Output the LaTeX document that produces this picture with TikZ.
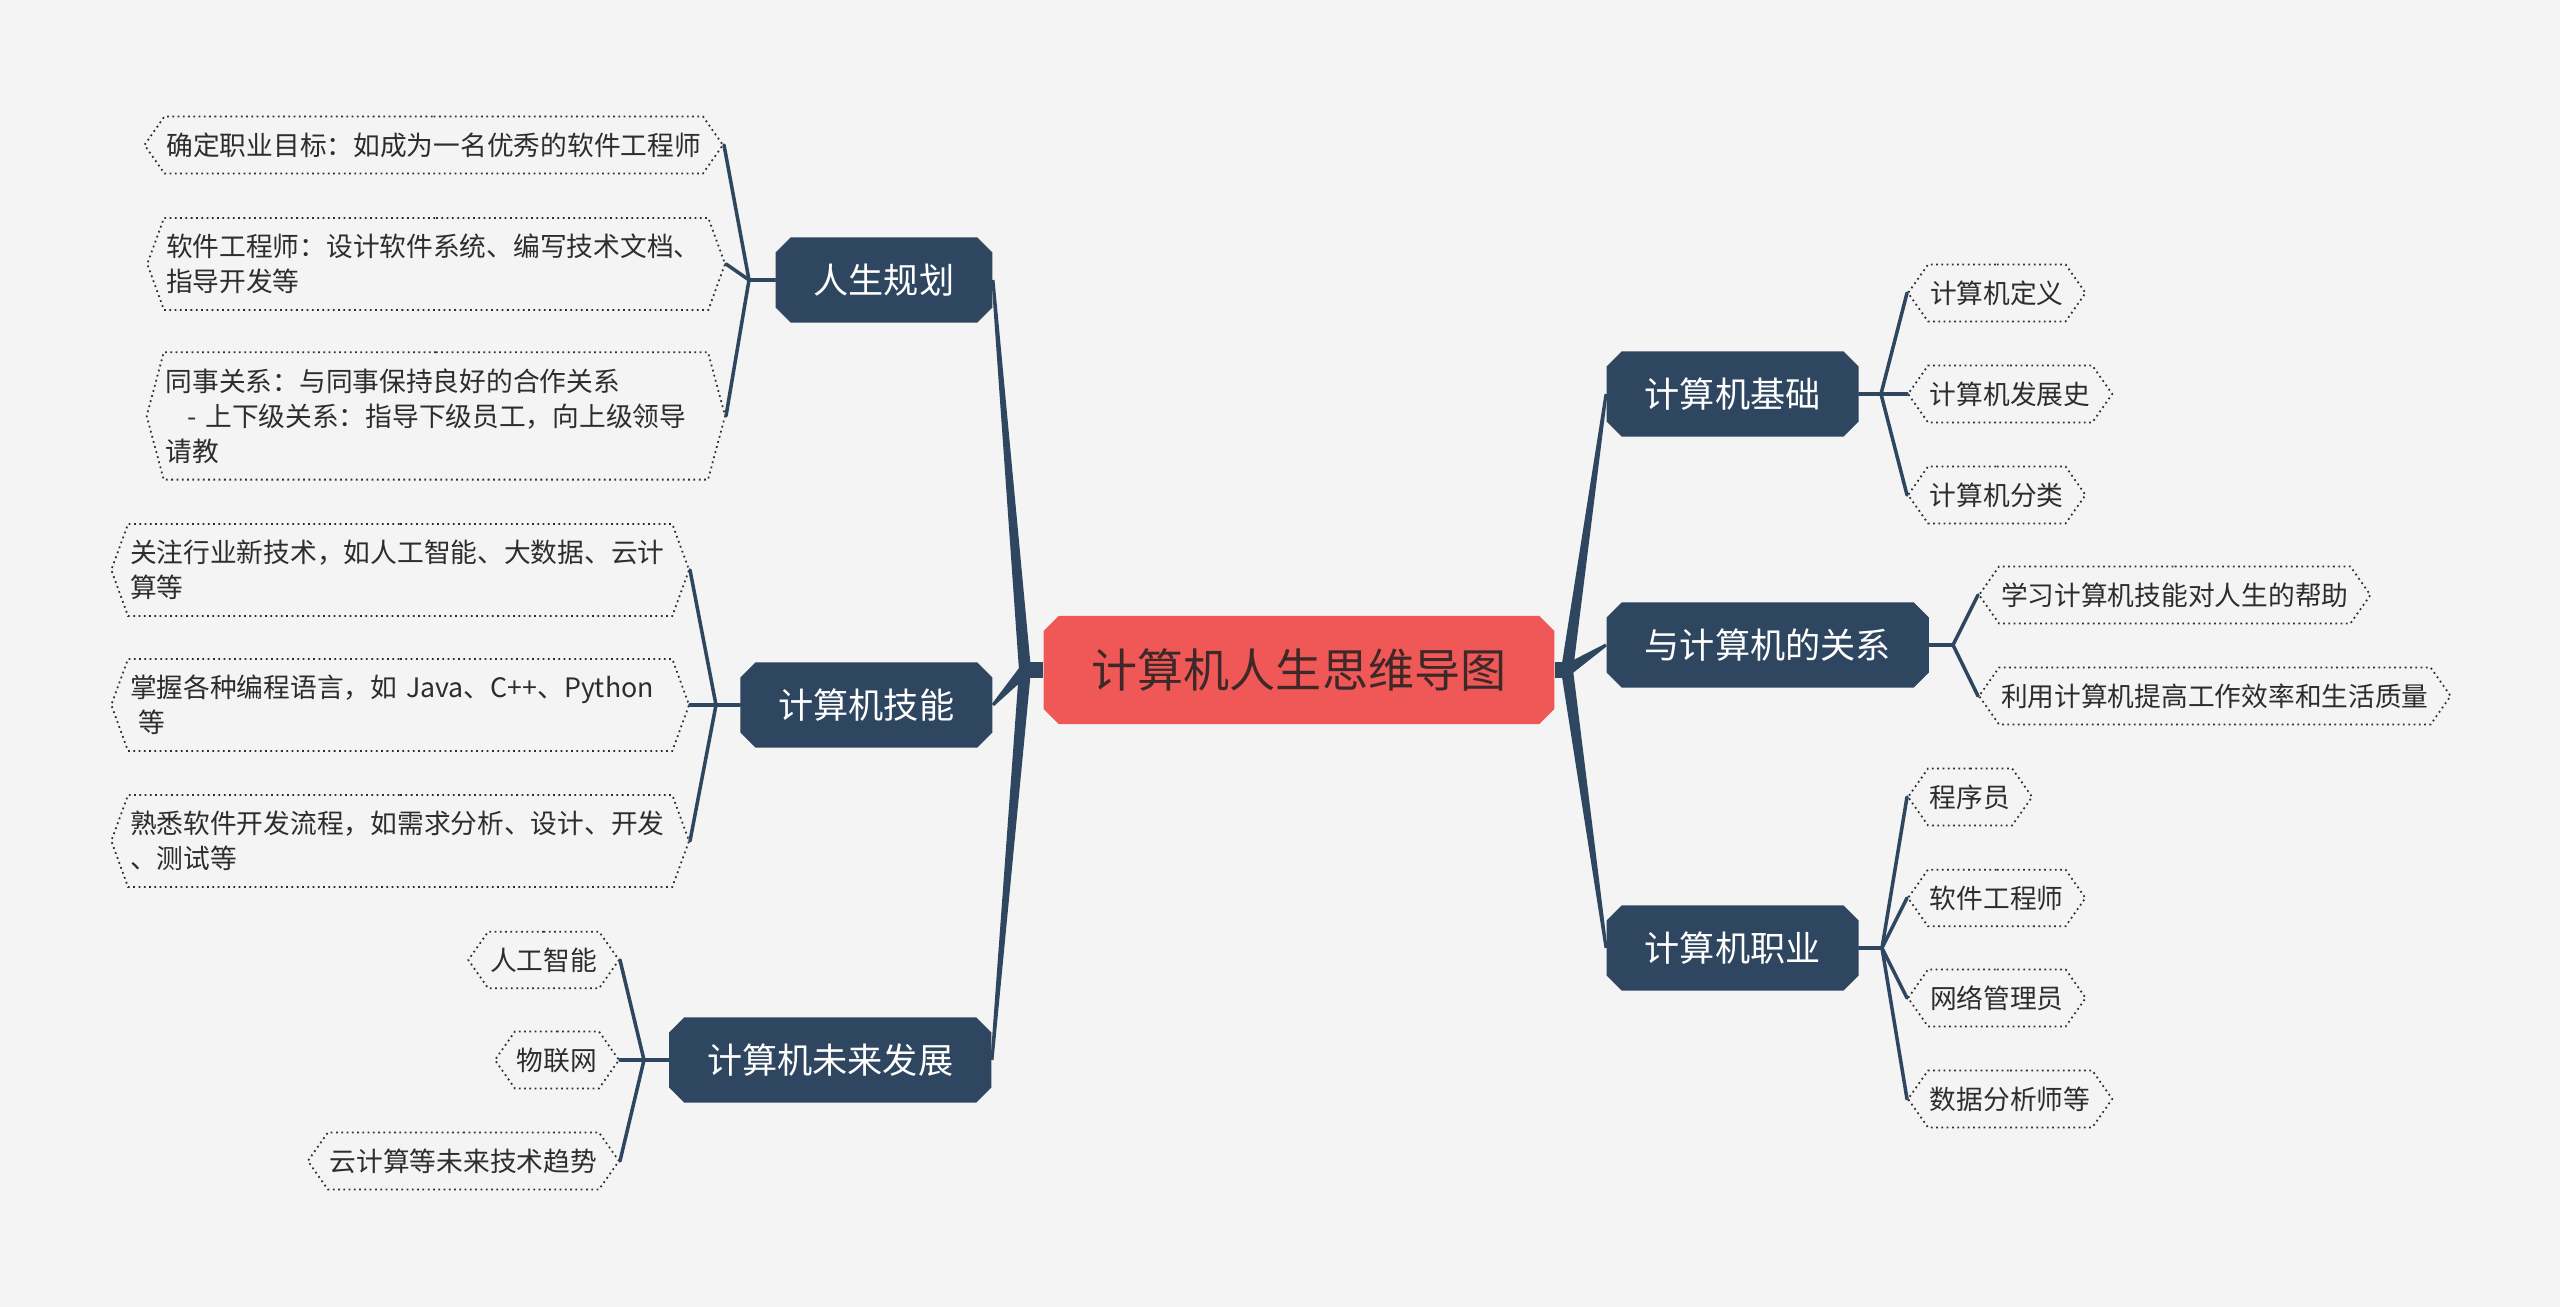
\documentclass[tikz,border=0pt]{standalone}
\usepackage{fontspec}
\setmainfont{Noto Sans CJK SC}
\usetikzlibrary{positioning, calc, shapes.symbols}
\definecolor{bgGrey}{RGB}{244,244,244}
\definecolor{rootRed}{RGB}{240,88,88}
\definecolor{rootInk}{RGB}{62,40,40}
\definecolor{slate}{RGB}{47,70,96}
\definecolor{leafInk}{RGB}{45,45,45}

\begin{document}
\begin{tikzpicture}[
    x=0.01cm, y=-0.01cm,
    font=\fontsize{7.6pt}{10pt}\selectfont,
    cut/.style={path picture={\fill[#1]
        ([xshift=1.5mm]path picture bounding box.north west) -- ([xshift=-1.5mm]path picture bounding box.north east)
        -- ([yshift=-1.5mm]path picture bounding box.north east) -- ([yshift=1.5mm]path picture bounding box.south east)
        -- ([xshift=-1.5mm]path picture bounding box.south east) -- ([xshift=1.5mm]path picture bounding box.south west)
        -- ([yshift=1.5mm]path picture bounding box.south west) -- ([yshift=-1.5mm]path picture bounding box.north west)
        -- cycle;}},
    root/.style={rectangle, cut=rootRed, text=rootInk,
        font=\fontsize{13.1pt}{15pt}\selectfont, inner xsep=0.48cm, minimum height=1.08cm},
    topic/.style={rectangle, cut=slate, text=white,
        font=\fontsize{10pt}{12pt}\selectfont, inner xsep=0.38cm, minimum height=0.85cm},
    leaf/.style={signal, signal to=east and west, signal pointer angle=#1, draw=leafInk,
        densely dotted, line width=0.5pt, text=leafInk, inner xsep=0.02cm, inner ysep=0.16cm,
        align=left},
    leaf/.default=110,
    wide/.style={text width=5.4cm},
    link/.style={slate, line width=1pt, line cap=round}
]
\fill[bgGrey] (0,0) rectangle (2560,1307);

% centre and main topics
\node[root] (root) at (1299,670) {计算机人生思维导图};
\node[topic, anchor=east] (plan) at (993,280) {人生规划};
\node[topic, anchor=east] (skill) at (993,705) {计算机技能};
\node[topic, anchor=east] (future) at (992,1060) {计算机未来发展};
\node[topic, anchor=west] (basic) at (1606,394) {计算机基础};
\node[topic, anchor=west] (rel) at (1606,645) {与计算机的关系};
\node[topic, anchor=west] (career) at (1606,948) {计算机职业};

% left leaves
\node[leaf, anchor=east] (plan1) at (724,145) {确定职业目标：如成为一名优秀的软件工程师};
\node[leaf=140, wide, anchor=east] (plan2) at (726,264) {软件工程师：设计软件系统、编写技术文档、\\指导开发等};
\node[leaf=150, wide, anchor=east] (plan3) at (726,416) {同事关系：与同事保持良好的合作关系\\\hspace*{0.8em}- 上下级关系：指导下级员工，向上级领导\\请教};
\node[leaf=140, wide, anchor=east] (skill1) at (690,570) {关注行业新技术，如人工智能、大数据、云计\\算等};
\node[leaf=140, wide, anchor=east] (skill2) at (690,705) {掌握各种编程语言，如 Java、C++、Python\\\hspace*{0.3em}等};
\node[leaf=140, wide, anchor=east] (skill3) at (690,841) {熟悉软件开发流程，如需求分析、设计、开发\\、测试等};
\node[leaf, anchor=east] (fut1) at (620,960) {人工智能};
\node[leaf, anchor=east] (fut2) at (620,1060) {物联网};
\node[leaf, anchor=east] (fut3) at (620,1161) {云计算等未来技术趋势};

% right leaves
\node[leaf, anchor=west] (basic1) at (1907,293) {计算机定义};
\node[leaf, anchor=west] (basic2) at (1907,394) {计算机发展史};
\node[leaf, anchor=west] (basic3) at (1907,495) {计算机分类};
\node[leaf, anchor=west] (rel1) at (1978,595) {学习计算机技能对人生的帮助};
\node[leaf, anchor=west] (rel2) at (1978,696) {利用计算机提高工作效率和生活质量};
\node[leaf, anchor=west] (car1) at (1907,797) {程序员};
\node[leaf, anchor=west] (car2) at (1907,898) {软件工程师};
\node[leaf, anchor=west] (car3) at (1907,998) {网络管理员};
\node[leaf, anchor=west] (car4) at (1907,1099) {数据分析师等};

% fork points
\coordinate (lfork) at (1025,670);
\coordinate (rfork) at (1567,670);
\coordinate (planf) at (749,280);
\coordinate (skillf) at (716,705);
\coordinate (futf) at (644,1060);
\coordinate (basicf) at (1881,394);
\coordinate (relf) at (1953,645);
\coordinate (carf) at (1882,948);

% main branches, tapered
\draw[slate, line width=4.5pt] (root.west) -- (lfork);
\draw[slate, line width=4.5pt] (root.east) -- (rfork);
\foreach \f/\b in {lfork/plan.east, lfork/skill.east, lfork/future.east,
                   rfork/basic.west, rfork/rel.west, rfork/career.west}
  \fill[slate] ($(\f)!0.06cm!90:(\b)$) -- ($(\b)!0.015cm!-90:(\f)$)
    -- ($(\b)!0.015cm!90:(\f)$) -- ($(\f)!0.06cm!-90:(\b)$) -- cycle;

% sub branches
\foreach \t/\f in {plan/planf, skill/skillf, future/futf} \draw[link] (\t.west) -- (\f);
\foreach \t/\f in {basic/basicf, rel/relf, career/carf} \draw[link] (\t.east) -- (\f);
\foreach \f/\l in {planf/plan1, planf/plan2, planf/plan3, skillf/skill1, skillf/skill2,
                   skillf/skill3, futf/fut1, futf/fut2, futf/fut3}
  \draw[link] (\f) -- (\l.east);
\foreach \f/\l in {basicf/basic1, basicf/basic2, basicf/basic3, relf/rel1, relf/rel2,
                   carf/car1, carf/car2, carf/car3, carf/car4}
  \draw[link] (\f) -- (\l.west);
\end{tikzpicture}
\end{document}
